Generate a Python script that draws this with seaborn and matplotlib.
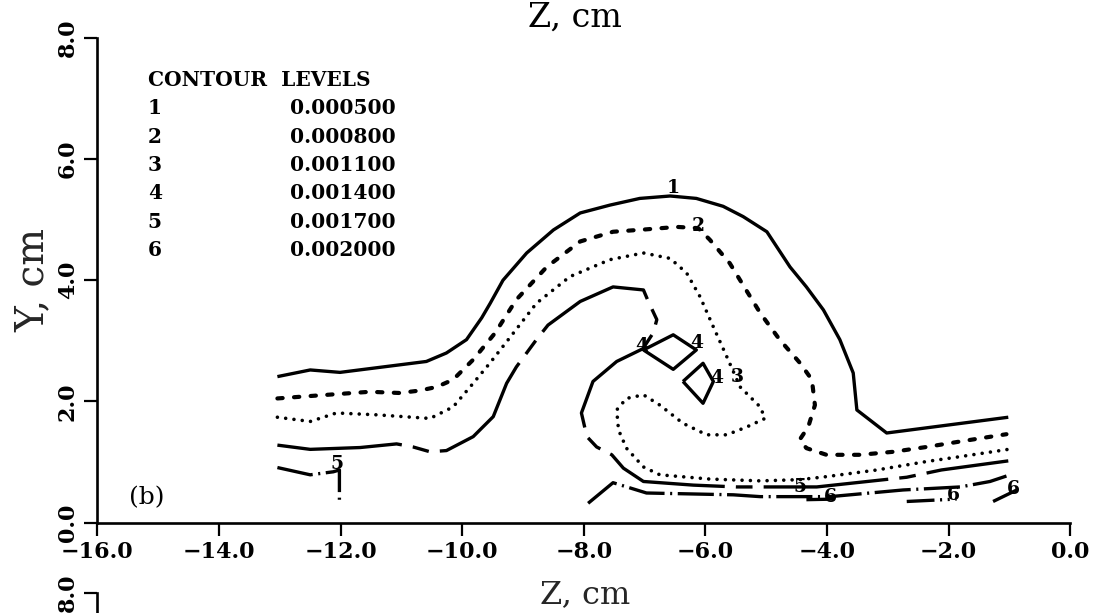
import matplotlib
matplotlib.use("Agg")
import matplotlib.pyplot as plt
import pandas as pd
import seaborn as sns

# ---- contour data (Z, Y in cm) ----
# level 1 (solid)
Z1 = [-13.04, -12.50, -12.01, -10.59, -10.26, -9.93, -9.68, -9.54, -9.33, -8.94, -8.50, -8.06,
      -7.57, -7.08, -6.58, -6.15, -5.71, -5.38, -4.99, -4.61, -4.34, -4.06, -3.79, -3.57, -3.51,
      -3.02, -1.02]
Y1 = [2.41, 2.52, 2.48, 2.66, 2.80, 3.02, 3.38, 3.62, 4.00, 4.45, 4.83, 5.11, 5.24, 5.35, 5.39,
      5.35, 5.22, 5.05, 4.80, 4.22, 3.89, 3.51, 3.02, 2.47, 1.86, 1.48, 1.74]

# level 2 (dashed)
Z2 = [-13.04, -12.50, -11.52, -11.03, -10.70, -10.42, -10.15, -9.82, -9.46, -9.11, -8.61, -8.06,
      -7.52, -6.97, -6.47, -6.12, -5.93, -5.60, -5.35, -5.10, -4.78, -4.45, -4.25, -4.20, -4.31,
      -4.45, -4.34, -4.01, -3.46, -2.91, -2.36, -1.81, -1.05]
Y2 = [2.05, 2.09, 2.16, 2.14, 2.18, 2.24, 2.36, 2.69, 3.13, 3.68, 4.22, 4.64, 4.80, 4.84, 4.88,
      4.86, 4.67, 4.28, 3.87, 3.46, 3.02, 2.64, 2.36, 1.94, 1.58, 1.37, 1.23, 1.12, 1.12, 1.17,
      1.25, 1.34, 1.46]

# level 3 (dotted)
Z3 = [-13.04, -12.50, -12.07, -11.41, -10.53, -10.15, -9.82, -9.54, -9.22, -8.78, -8.23, -7.57,
      -7.02, -6.58, -6.31, -6.09, -5.87, -5.65, -5.43, -5.10, -5.02, -5.32, -5.65, -5.98, -6.37,
      -6.75, -7.02, -7.30, -7.46, -7.43, -7.30, -7.02, -6.75, -5.93, -5.10, -4.45, -4.01, -3.18,
      -2.36, -1.81, -1.02]
Y3 = [1.74, 1.67, 1.81, 1.78, 1.72, 1.91, 2.30, 2.64, 3.05, 3.62, 4.06, 4.34, 4.45, 4.36, 4.12,
      3.73, 3.23, 2.74, 2.24, 1.91, 1.72, 1.58, 1.45, 1.45, 1.64, 1.94, 2.11, 2.05, 1.86, 1.53,
      1.23, 0.92, 0.79, 0.72, 0.69, 0.71, 0.76, 0.87, 1.01, 1.09, 1.21]

# level 4 (long dash) main branch and two closed cells
Z4 = [-13.04, -12.50, -11.68, -11.08, -10.81, -10.53, -10.26, -9.82, -9.49, -9.27, -9.11, -8.78,
      -8.59, -8.06, -7.52, -7.02, -6.94, -6.80, -6.86, -7.03, -7.46, -7.85, -8.04, -7.95, -7.79,
      -7.54, -7.35, -7.02, -6.20, -5.49, -4.17, -2.69, -2.12, -1.02]
Y4 = [1.28, 1.21, 1.24, 1.30, 1.25, 1.17, 1.19, 1.42, 1.75, 2.30, 2.57, 3.02, 3.26, 3.65, 3.89,
      3.84, 3.65, 3.35, 3.13, 2.87, 2.66, 2.33, 1.81, 1.42, 1.25, 1.12, 0.90, 0.68, 0.62, 0.59,
      0.59, 0.75, 0.87, 1.02]
Z4A = [-7.02, -6.53, -6.15, -6.53, -7.02]
Y4A = [2.85, 3.10, 2.85, 2.53, 2.85]
Z4B = [-6.37, -6.04, -5.87, -6.04, -6.37]
Y4B = [2.33, 2.63, 2.33, 1.97, 2.33]

# level 5 (dash-dot)
Z5A = [-13.04, -12.50, -12.12, -12.02, -12.02]
Y5A = [0.91, 0.79, 0.84, 0.87, 0.34]
Z5B = [-7.93, -7.52, -6.97, -5.54, -5.10, -3.95, -2.75, -1.81, -1.32, -1.05]
Y5B = [0.32, 0.66, 0.49, 0.46, 0.43, 0.43, 0.54, 0.59, 0.68, 0.77]

# level 6 (short fragments near the floor)
Z6A = [-4.34, -3.84]
Y6A = [0.38, 0.39]
Z6B = [-2.69, -1.87]
Y6B = [0.35, 0.39]
Z6C = [-1.27, -0.88]
Y6C = [0.35, 0.54]

# in-line contour labels
LABEL_TEXT = ["1", "2", "3", "4", "4", "4", "5", "5", "6", "6", "6"]
LABEL_Z = [-6.53, -6.12, -5.47, -7.05, -6.15, -5.82, -12.06, -4.45, -3.95, -1.93, -0.94]
LABEL_Y = [5.52, 4.90, 2.40, 2.91, 2.96, 2.39, 0.97, 0.59, 0.42, 0.46, 0.56]

# level table
LEVEL_IDS = ["1", "2", "3", "4", "5", "6"]
LEVEL_VALUES = [0.000500, 0.000800, 0.001100, 0.001400, 0.001700, 0.002000]

XTICKS = [-16, -14, -12, -10, -8, -6, -4, -2, 0]
XTICK_LABELS = ["\u221216.0", "\u221214.0", "\u221212.0", "\u221210.0", "\u22128.0",
                "\u22126.0", "\u22124.0", "\u22122.0", "0.0"]
YTICKS = [0, 2, 4, 6, 8]
YTICK_LABELS = ["0.0", "2.0", "4.0", "6.0", "8.0"]

# ---- long-form table of all contour pieces ----
pieces = [
    ("1", "1", Z1, Y1), ("2", "2", Z2, Y2), ("3", "3", Z3, Y3),
    ("4", "4", Z4, Y4), ("4", "4a", Z4A, Y4A), ("4", "4b", Z4B, Y4B),
    ("5", "5a", Z5A, Y5A), ("5", "5b", Z5B, Y5B),
    ("6", "6a", Z6A, Y6A), ("6", "6b", Z6B, Y6B), ("6", "6c", Z6C, Y6C),
]
rows = []
for level, piece, zs, ys in pieces:
    for z, y in zip(zs, ys):
        rows.append({"Z": z, "Y": y, "level": level, "piece": piece})
df = pd.DataFrame(rows)

# line style of each level (dash lengths in points)
LINE_STYLE = {
    "1": dict(linestyle="-", linewidth=2.4, dash_capstyle="butt"),
    "2": dict(linestyle=(0, (3.8, 8.2)), linewidth=3.0, dash_capstyle="round"),
    "3": dict(linestyle=(0, (0.01, 6.0)), linewidth=2.6, dash_capstyle="round"),
    "4": dict(linestyle=(0, (90, 8, 12, 8)), linewidth=2.4, dash_capstyle="butt"),
    "5": dict(linestyle=(0, (26, 4, 1.5, 4)), linewidth=2.4, dash_capstyle="butt"),
    "6": dict(linestyle=(0, (20, 4, 1.5, 4, 1.5, 4)), linewidth=2.4, dash_capstyle="butt"),
}
CELL_STYLE = dict(linestyle="-", linewidth=2.4)

sns.set_theme(style="ticks")
plt.rcParams.update({
    "font.family": ["DejaVu Serif"],
    "lines.scale_dashes": False,
    "axes.linewidth": 1.9,
    "xtick.major.width": 1.6,
    "ytick.major.width": 1.6,
    "xtick.major.size": 9.4,
    "ytick.major.size": 9.4,
    "xtick.color": "black",
    "ytick.color": "black",
    "axes.edgecolor": "black",
    "text.color": "black",
})

W, H = 1101, 613
fig = plt.figure(figsize=(W / 100, H / 100), dpi=100)
ax_left, ax_bottom, ax_w, ax_h = 0.08847, 0.14731, 0.88365, 0.79103
ax = fig.add_axes([ax_left, ax_bottom, ax_w, ax_h])

for piece, sub in df.groupby("piece", sort=False):
    level = sub["level"].iloc[0]
    style = CELL_STYLE if piece in ("4a", "4b") else LINE_STYLE[level]
    sns.lineplot(data=sub, x="Z", y="Y", sort=False, estimator=None, color="black",
                 solid_capstyle="butt", ax=ax, **style)

for txt, z, y in zip(LABEL_TEXT, LABEL_Z, LABEL_Y):
    ax.text(z, y, txt, ha="center", va="center", fontsize=13.5, fontweight="bold",
            family="DejaVu Serif")

# level table in the upper left
ax.text(-15.17, 7.305, "CONTOUR  LEVELS", ha="left", va="center", fontsize=14.5,
        fontweight="bold")
row_y = [6.84, 6.37, 5.90, 5.435, 4.967, 4.50]
for lid, val, yy in zip(LEVEL_IDS, LEVEL_VALUES, row_y):
    ax.text(-15.17, yy, lid, ha="left", va="center", fontsize=14.5, fontweight="bold")
    ax.text(-12.84, yy, f"{val:.6f}", ha="left", va="center", fontsize=14.5,
            fontweight="bold")

ax.text(-15.48, 0.41, "(b)", ha="left", va="center", fontsize=18)

ax.set_xlim(-16, 0)
ax.set_ylim(0, 8)
sns.despine(ax=ax, top=True, right=True)
ax.set_xticks(XTICKS)
ax.set_xticklabels(XTICK_LABELS, fontsize=16, fontweight="bold")
ax.set_yticks(YTICKS)
ax.set_yticklabels(YTICK_LABELS, fontsize=16, fontweight="bold", rotation=90, va="center")
ax.tick_params(axis="x", direction="out", pad=4)
ax.tick_params(axis="y", direction="out", pad=4)

ax.set_xlabel("Z, cm", fontsize=23, va="center")
ax.xaxis.set_label_coords(0.5012, -0.149)
ax.set_ylabel("Y, cm", fontsize=28, va="center")
ax.yaxis.set_label_coords(-0.066, 0.50)

# axis title of the panel above
fig.text(0.5223, 0.9706, "Z, cm", ha="center", va="center", fontsize=24)

# top of the following panel
ax_next = fig.add_axes([ax_left, 0.033 - 0.79, ax_w, 0.79])
ax_next.set_facecolor("none")
ax_next.set_ylim(0, 8)
ax_next.set_xlim(-16, 0)
for side in ("top", "right", "bottom"):
    ax_next.spines[side].set_visible(False)
ax_next.set_xticks([])
ax_next.set_yticks([8])
ax_next.set_yticklabels(["8.0"], fontsize=16, fontweight="bold", rotation=90, va="center")
ax_next.tick_params(axis="y", direction="out", pad=4)

fig.savefig("out.png", dpi=100, facecolor="white")
